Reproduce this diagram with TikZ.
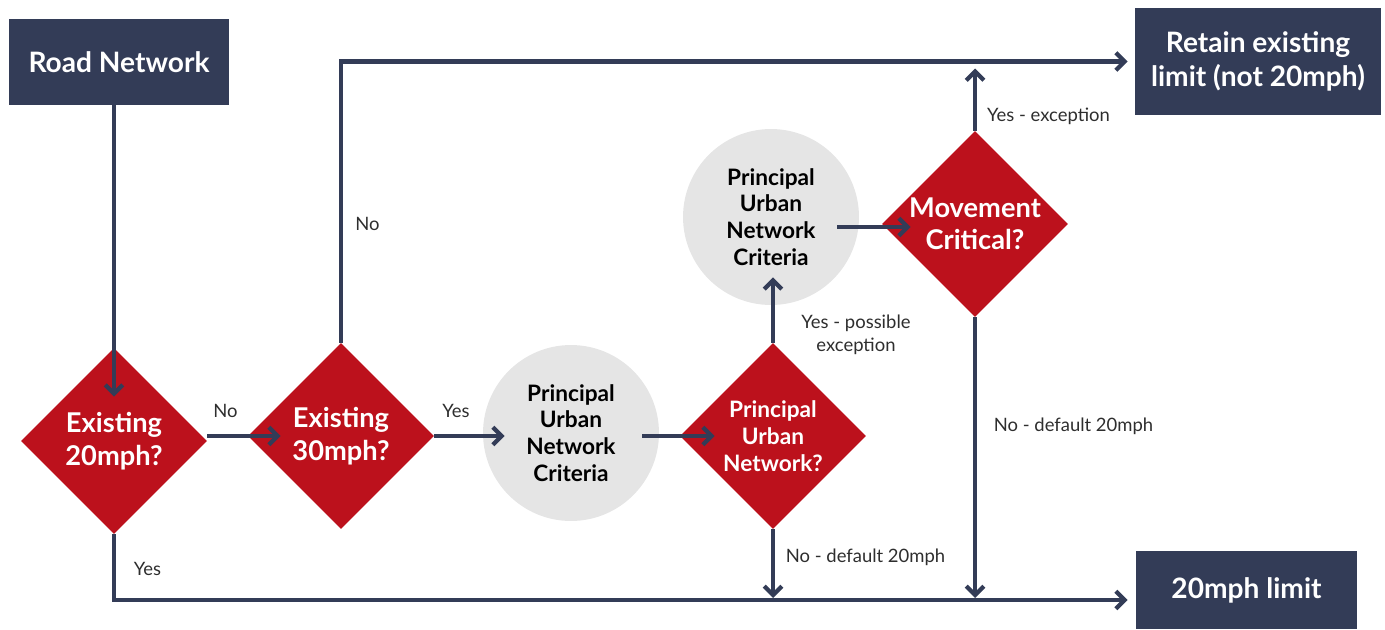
\documentclass[tikz,border=0pt]{standalone}
\usepackage{fontspec}
\setmainfont{Lato}
\usetikzlibrary{shapes.geometric}
\usetikzlibrary{arrows.meta}
\usetikzlibrary{positioning}

\definecolor{navy}{HTML}{333C57}
\definecolor{roadred}{HTML}{BC111C}
\definecolor{critgrey}{HTML}{E5E5E5}
\definecolor{labelgrey}{HTML}{2E2E2E}

\tikzset{
  endbox/.style={rectangle,fill=navy,text=white,font=\bfseries\fontsize{16}{19.5}\selectfont,align=center,inner sep=0pt},
  decision/.style={diamond,aspect=1,fill=roadred,text=white,font=\bfseries\fontsize{15.5}{18.5}\selectfont,align=center,inner sep=0pt,minimum width=3.72cm,minimum height=3.72cm},
  criteria/.style={circle,fill=critgrey,text=black,font=\bfseries\fontsize{12.9}{15.3}\selectfont,align=center,inner sep=0pt,minimum size=3.52cm},
  flow/.style={draw=navy,line width=0.085cm,-{Straight Barb[length=5pt,width=10pt]}},
  flowlabel/.style={text=labelgrey,font=\fontsize{10.5}{13}\selectfont,align=center,inner sep=0pt}
}

\begin{document}
\begin{tikzpicture}[x=0.02cm,y=-0.02cm]
\useasboundingbox (0,0) rectangle (1385,629);

\node[endbox,minimum width=4.4cm,minimum height=1.72cm] (road) at (119,62) {Road Network};
\node[endbox,minimum width=4.92cm,minimum height=2.14cm] (retain) at (1258,61.5) {Retain existing\\limit (not 20mph)};
\node[endbox,minimum width=4.42cm,minimum height=1.56cm] (limit) at (1246.5,590) {20mph limit};

\node[decision] (exist20) at (114,441) {Existing\\20mph?};
\node[decision] (exist30) at (341,436) {Existing\\30mph?};
\node[criteria] (pun crit) at (571,433) {Principal\\Urban\\Network\\Criteria};
\node[decision,font=\bfseries\fontsize{12.9}{15.3}\selectfont] (pun) at (773,436) {Principal\\Urban\\Network?};
\node[criteria] (pun crit2) at (771,217) {Principal\\Urban\\Network\\Criteria};
\node[decision] (movement) at (975,224) {Movement\\Critical?};

\coordinate (base) at (0,600);

\draw[flow] (road.south -| exist20.north) -- ([yshift=-0.98cm]exist20.north);
\draw[flow] (exist20.east |- exist30.west) -- ([xshift=0.66cm]exist30.west);
\draw[flow] (exist30.east) -- ([xshift=0.44cm]pun crit.west |- exist30.east);
\draw[flow] ([xshift=-0.34cm]pun crit.east |- pun.west) -- ([xshift=0.7cm]pun.west);
\draw[flow] (pun.north) -- ([yshift=0.56cm]pun.north |- pun crit2.south);
\draw[flow] ([xshift=-0.44cm,yshift=-0.06cm]pun crit2.east |- movement.west) -- ([xshift=0.58cm,yshift=-0.06cm]movement.west);
\draw[flow] (movement.north) -- ([yshift=-0.14cm]movement.north |- retain.west);
\draw[flow] (exist30.north) |- ([xshift=-0.14cm]retain.west);
\draw[flow,shorten >=0.16cm] (exist20.south) |- (base -| limit.west);
\draw[flow,shorten >=0.04cm] (pun.south) -- (pun.south |- base);
\draw[flow,shorten >=0.04cm] (movement.south) -- (movement.south |- base);

\node[flowlabel] (no20) at (225.5,411) {No};
\node[flowlabel] (yes30) at (456,411) {Yes};
\node[flowlabel] (no30) at (367.5,224) {No};
\node[flowlabel] (yes20) at (147.5,569) {Yes};
\node[flowlabel] (nopun) at (865.5,557) {No - default 20mph};
\node[flowlabel] (nomove) at (1073.5,426) {No - default 20mph};
\node[flowlabel] (yesmove) at (1048.5,116) {Yes - exception};
\node[flowlabel] (yespun) at (856,335) {Yes - possible\\exception};

\end{tikzpicture}
\end{document}
